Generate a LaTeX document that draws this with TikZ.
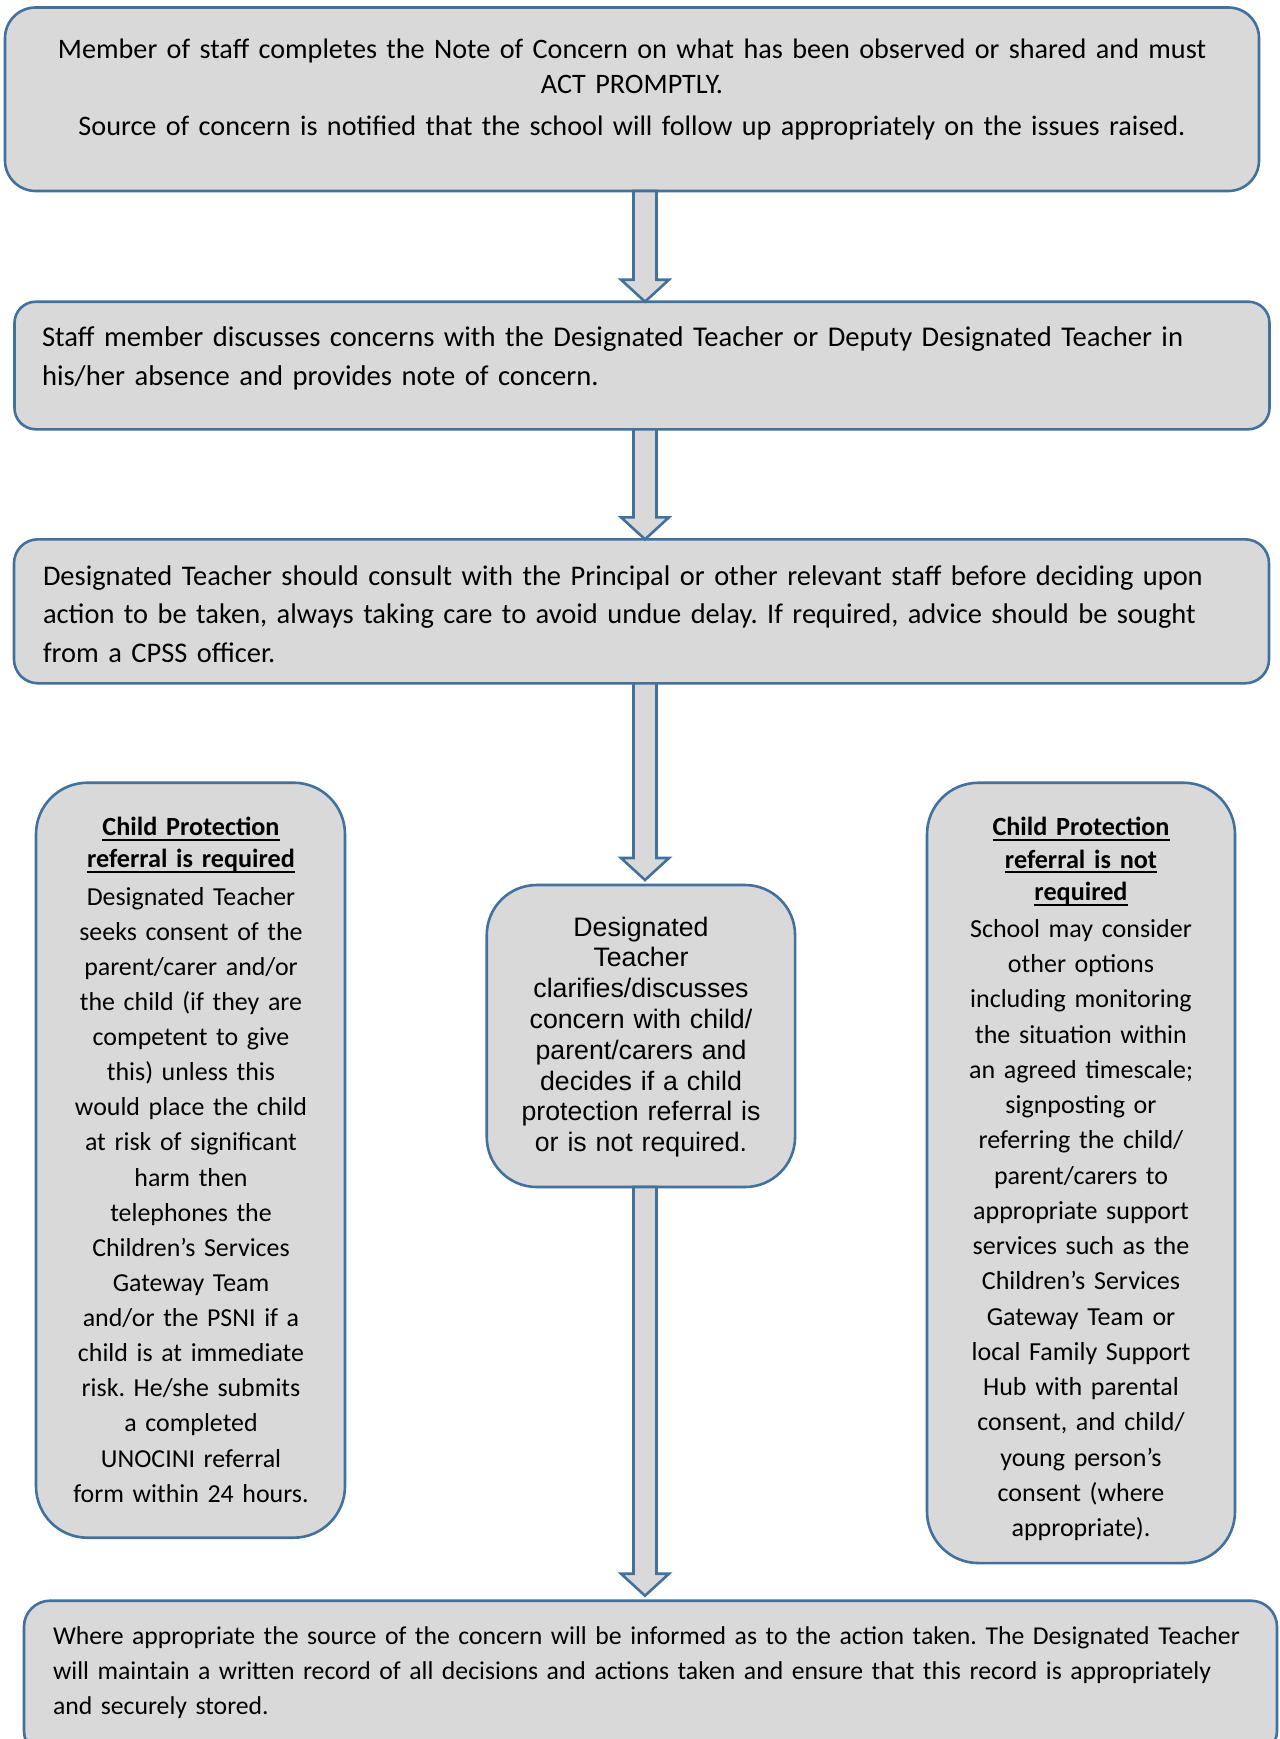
\documentclass[tikz,border=0pt]{standalone}
\usepackage{fontspec}
\setmainfont{Carlito}
\newfontfamily\arialf{Liberation Sans}
\usetikzlibrary{calc}
\definecolor{boxfill}{HTML}{D9D9D9}
\definecolor{boxline}{HTML}{41719C}
\tikzset{
  flowbox/.style={draw=boxline, fill=boxfill, line width=2.6pt, inner sep=0pt, outer sep=0pt},
  blockarr/.style={draw=boxline, fill=boxfill, line width=2.6pt, line join=miter},
  txt/.style={inner sep=0pt, outer sep=0pt},
}
\newsavebox\ulsave
\newcommand\ulbox[1]{\leavevmode\sbox\ulsave{#1}\rlap{\rule[-5pt]{\wd\ulsave}{2pt}}\usebox\ulsave}
\newcommand\mkfont[2]{\fontsize{#1}{#2}\selectfont\frenchspacing}
\newcommand\blockarrow[2]{%
  \draw[blockarr] ($(#1)+(-11.5,0)$) -- ($(#2)+(-11.5,-22)$) -- ($(#2)+(-24,-22)$) -- (#2)
    -- ($(#2)+(24,-22)$) -- ($(#2)+(11.5,-22)$) -- ($(#1)+(11.5,0)$) -- cycle;}
\begin{document}
\frenchspacing
\begin{tikzpicture}[x=1pt,y=-1pt]
\useasboundingbox (0,0) rectangle (1279,1739);
\clip (0,0) rectangle (1279,1739);
\fill[white] (0,0) rectangle (1279,1739);
% boxes
\node[flowbox, rounded corners=30.6pt, minimum width=1254pt, minimum height=183.5pt] (b1) at (632,99.25) {};
\node[flowbox, rounded corners=21.3pt, minimum width=1255pt, minimum height=127.6pt] (b2) at (642,365.5) {};
\node[flowbox, rounded corners=24pt, minimum width=1255pt, minimum height=144pt] (b3) at (641.5,611.3) {};
\node[flowbox, rounded corners=51.5pt, minimum width=309pt, minimum height=755pt] (bl) at (190.5,1160.2) {};
\node[flowbox, rounded corners=51.5pt, minimum width=308pt, minimum height=780.3pt] (br) at (1081,1172.9) {};
\node[flowbox, rounded corners=50pt, minimum width=308.3pt, minimum height=302pt] (bm) at (640.9,1036) {};
\node[flowbox, rounded corners=26pt, minimum width=1253pt, minimum height=156pt] (bb) at (650.5,1678.7) {};
% arrows
\coordinate (ax) at (645,0);
\coordinate (a1s) at (b1.south -| ax);
\coordinate (a1e) at (b2.north -| ax);
\coordinate (a2s) at (b2.south -| ax);
\coordinate (a2e) at (b3.north -| ax);
\coordinate (a3s) at (b3.south -| ax);
\coordinate (a3e) at ($(bm.north -| ax)+(0,-5)$);
\coordinate (a4s) at (bm.south -| ax);
\coordinate (a4e) at ($(bb.north -| ax)+(0,-5)$);
\blockarrow{a1s}{a1e}
\blockarrow{a2s}{a2e}
\blockarrow{a3s}{a3e}
\blockarrow{a4s}{a4e}
% texts
\node[txt, anchor=base, text width=1240pt, align=center, font=\mkfont{28.2}{35}] (t1) at (632,59)
 {Member of staff completes the Note of Concern on what has been observed or shared and must\\ACT PROMPTLY.\\[7pt]Source of concern is notified that the school will follow up appropriately on the issues raised.};
\node[txt, anchor=base west, text width=1225pt, align=left, font=\mkfont{28.6}{38.3}] (t2) at (42,346.7)
 {Staff member discusses concerns with the Designated Teacher or Deputy Designated Teacher in\\his/her absence and provides note of concern.};
\node[txt, anchor=base west, text width=1225pt, align=left, font=\mkfont{28.45}{38.5}] (t3) at (43,585)
 {Designated Teacher should consult with the Principal or other relevant staff before deciding upon\\action to be taken, always taking care to avoid undue delay. If required, advice should be sought\\from a CPSS officer.};
\node[txt, anchor=base, text width=300pt, align=center, font=\mkfont{26.2}{32.2}\bfseries] (lh) at (191,835.5)
 {\ulbox{Child Protection}\\\ulbox{referral is required}};
\node[txt, anchor=base, text width=300pt, align=center, font=\mkfont{25.9}{35.13}] (lt) at (191,905)
 {Designated Teacher\\seeks consent of the\\parent/carer and/or\\the child (if they are\\competent to give\\this) unless this\\would place the child\\at risk of significant\\harm then\\telephones the\\Children’s Services\\Gateway Team\\and/or the PSNI if a\\child is at immediate\\risk. He/she submits\\a completed\\UNOCINI referral\\form within 24 hours.};
\node[txt, anchor=base, text width=300pt, align=center, font=\arialf\mkfont{26.7}{30.8}] (mt) at (641,936)
 {Designated\\Teacher\\clarifies/discusses\\concern with child/\\parent/carers and\\decides if a child\\protection referral is\\or is not required.};
\node[txt, anchor=base, text width=300pt, align=center, font=\mkfont{26.2}{32.6}\bfseries] (rh) at (1081,835.5)
 {\ulbox{Child Protection}\\\ulbox{referral is not}\\\ulbox{required}};
\node[txt, anchor=base, text width=300pt, align=center, font=\mkfont{26}{35.25}] (rt) at (1081,937.3)
 {School may consider\\other options\\including monitoring\\the situation within\\an agreed timescale;\\signposting or\\referring the child/\\parent/carers to\\appropriate support\\services such as the\\Children’s Services\\Gateway Team or\\local Family Support\\Hub with parental\\consent, and child/\\young person’s\\consent (where\\appropriate).};
\node[txt, anchor=base west, text width=1220pt, align=left, font=\mkfont{25.7}{35}] (tb) at (53,1644)
 {Where appropriate the source of the concern will be informed as to the action taken. The Designated Teacher\\will maintain a written record of all decisions and actions taken and ensure that this record is appropriately\\and securely stored.};
\end{tikzpicture}
\end{document}
